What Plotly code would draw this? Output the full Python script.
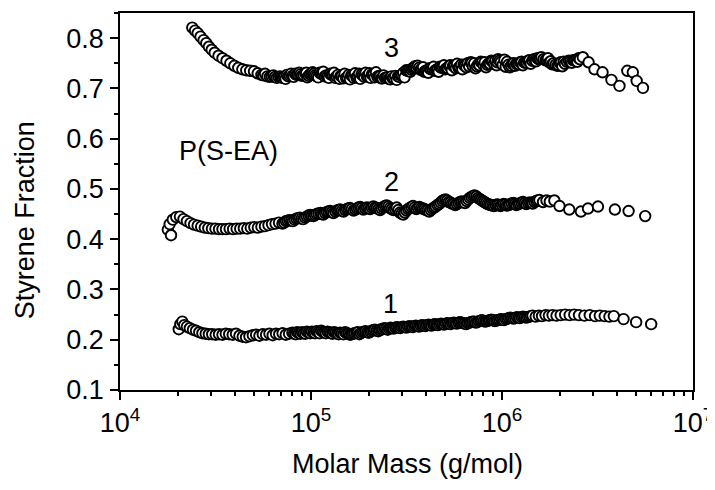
import plotly.graph_objects as go

# ---------------- data (molar mass in kg/mol, styrene fraction) ----------------
mass1_kg = [20.3, 20.7, 21.2, 21.7, 22.4, 23.2, 24.1, 25.0, 26.0, 27.0, 28.1, 29.2, 30.4, 31.7, 33.0,
            34.4, 35.8, 37.3, 38.9, 40.5, 42.2, 43.9, 45.7, 47.6, 49.6, 51.6, 53.7, 55.9, 58.2, 60.6,
            63.0, 65.6, 68.2, 71.0, 73.8, 76.8, 79.9, 83.1, 86.4, 89.8, 93.4, 97.1, 101, 105, 109,
            113, 117, 122, 127, 132, 137, 142, 148, 154, 160, 166, 173, 179, 186, 193,
            201, 208, 216, 225, 233, 242, 252, 261, 271, 282, 293, 304, 316, 328, 341,
            354, 368, 382, 397, 412, 428, 445, 462, 480, 498, 518, 538, 559, 580, 603,
            626, 650, 675, 701, 729, 757, 786, 817, 848, 881, 915, 951, 988, 1026, 1066,
            1107, 1150, 1195, 1241, 1289, 1339, 1391, 1445, 1501, 1560, 1620, 1690, 1760, 1840, 1930,
            2030, 2140, 2260, 2390, 2530, 2700, 2880, 3070, 3250, 3450, 3650, 3850, 4330, 5040, 6040]
frac1 = [0.221, 0.231, 0.236, 0.229, 0.226, 0.223, 0.220, 0.218, 0.215, 0.213, 0.212, 0.211, 0.211, 0.210, 0.211,
         0.210, 0.212, 0.211, 0.210, 0.212, 0.208, 0.206, 0.205, 0.207, 0.209, 0.210, 0.208, 0.211, 0.210, 0.212,
         0.209, 0.212, 0.211, 0.213, 0.210, 0.212, 0.214, 0.211, 0.213, 0.215, 0.212, 0.214, 0.216, 0.213, 0.215,
         0.218, 0.214, 0.216, 0.213, 0.215, 0.212, 0.214, 0.211, 0.213, 0.210, 0.212, 0.214, 0.211, 0.215, 0.217,
         0.214, 0.218, 0.220, 0.217, 0.221, 0.223, 0.220, 0.224, 0.222, 0.225, 0.223, 0.226, 0.224, 0.227, 0.225,
         0.228, 0.226, 0.229, 0.227, 0.230, 0.228, 0.231, 0.229, 0.232, 0.230, 0.233, 0.231, 0.234, 0.232, 0.235,
         0.233, 0.231, 0.234, 0.236, 0.234, 0.237, 0.239, 0.236, 0.238, 0.240, 0.237, 0.239, 0.241, 0.239, 0.242,
         0.244, 0.242, 0.245, 0.243, 0.246, 0.244, 0.246, 0.248, 0.246, 0.248, 0.247, 0.249, 0.248, 0.249, 0.248,
         0.249, 0.250, 0.249, 0.250, 0.249, 0.248, 0.249, 0.247, 0.248, 0.247, 0.246, 0.247, 0.241, 0.235, 0.231]
# additional, densely sampled middle part of curve 1
mass1_mid_kg = [81.5, 84.7, 88.1, 91.6, 95.2, 99.0, 103, 107, 111, 115, 119.5, 124.5, 129.5, 134.5, 139.5,
                145, 151, 157, 163, 169.5, 176, 182.5, 189.5, 197, 204.5, 212, 220.5, 229, 237.5, 247,
                256.5, 266, 276.5, 287.5, 298.5, 310, 322, 334.5, 347.5, 361, 375, 389.5, 404.5, 420, 436.5,
                453.5, 471, 489, 508, 528, 548.5, 569.5, 591.5, 614.5, 638, 662.5, 688, 715, 743, 771.5,
                801.5, 832.5, 864.5, 898, 933, 969.5, 1007, 1046, 1086.5, 1128.5, 1172.5, 1218, 1265, 1314, 1365,
                1418]
frac1_mid = [0.212, 0.215, 0.212, 0.213, 0.216, 0.213, 0.214, 0.217, 0.213, 0.216, 0.213, 0.215, 0.212, 0.214, 0.211,
             0.213, 0.215, 0.212, 0.211, 0.213, 0.215, 0.213, 0.216, 0.215, 0.216, 0.219, 0.218, 0.219, 0.221, 0.222,
             0.222, 0.223, 0.224, 0.224, 0.225, 0.225, 0.226, 0.226, 0.227, 0.227, 0.228, 0.228, 0.229, 0.229, 0.230,
             0.230, 0.231, 0.231, 0.232, 0.232, 0.233, 0.233, 0.234, 0.234, 0.232, 0.233, 0.235, 0.236, 0.235, 0.238,
             0.237, 0.237, 0.239, 0.239, 0.238, 0.240, 0.240, 0.241, 0.243, 0.243, 0.243, 0.244, 0.245, 0.245, 0.245,
             0.247]

mass2_kg = [18.5, 17.8, 18.2, 18.9, 19.7, 20.6, 21.5, 22.4, 23.4, 24.4, 25.5, 26.6, 27.8, 29.0, 30.3,
            31.6, 33.0, 34.4, 35.9, 37.5, 39.1, 40.8, 42.6, 44.5, 46.4, 48.4, 50.5, 52.7, 55.0, 57.4,
            59.9, 62.5, 65.2, 68.0, 70.9, 73.9, 77.1, 80.4, 83.8, 87.4, 91.1, 95.0, 99.0, 103, 107,
            112, 116, 121, 126, 131, 137, 142, 148, 154, 160, 167, 174, 181, 188, 196,
            204, 212, 221, 230, 239, 249, 259, 270, 281, 292, 304, 316, 329, 342, 356,
            370, 385, 400, 416, 433, 450, 468, 487, 506, 526, 547, 569, 592, 615, 640,
            665, 692, 719, 748, 777, 808, 840, 873, 908, 944, 981, 1020, 1060, 1100, 1150,
            1190, 1240, 1290, 1340, 1400, 1450, 1510, 1570, 1640, 1710, 1780, 1880, 2000, 2250, 2590,
            2820, 3180, 3900, 4600, 5620]
frac2 = [0.408, 0.419, 0.430, 0.439, 0.444, 0.445, 0.440, 0.436, 0.432, 0.429, 0.427, 0.425, 0.423, 0.422, 0.421,
         0.421, 0.420, 0.420, 0.420, 0.421, 0.420, 0.421, 0.421, 0.422, 0.421, 0.423, 0.424, 0.423, 0.425, 0.426,
         0.428, 0.430, 0.431, 0.433, 0.431, 0.436, 0.438, 0.436, 0.441, 0.443, 0.440, 0.445, 0.448, 0.446, 0.450,
         0.452, 0.449, 0.454, 0.456, 0.452, 0.457, 0.459, 0.455, 0.460, 0.462, 0.457, 0.461, 0.464, 0.459, 0.463,
         0.460, 0.465, 0.462, 0.458, 0.464, 0.467, 0.462, 0.458, 0.463, 0.453, 0.449, 0.457, 0.462, 0.466, 0.460,
         0.464, 0.461, 0.458, 0.455, 0.461, 0.465, 0.470, 0.476, 0.479, 0.474, 0.471, 0.468, 0.472, 0.475, 0.472,
         0.479, 0.484, 0.487, 0.482, 0.478, 0.474, 0.470, 0.468, 0.466, 0.469, 0.466, 0.470, 0.467, 0.469, 0.472,
         0.468, 0.471, 0.474, 0.470, 0.473, 0.471, 0.476, 0.478, 0.474, 0.477, 0.475, 0.477, 0.466, 0.459, 0.455,
         0.461, 0.465, 0.459, 0.456, 0.446]
# additional, densely sampled middle part of curve 2
mass2_mid_kg = [72.4, 75.5, 78.7, 82.1, 85.6, 89.2, 93.0, 97.0, 101, 105, 109.5, 114, 118.5, 123.5, 128.5,
                134, 139.5, 145, 151, 157, 163.5, 170.5, 177.5, 184.5, 192, 200, 208, 216.5, 225.5, 234.5,
                244, 254, 264.5, 275.5, 286.5, 298, 310, 322.5, 335.5, 349, 363, 377.5, 392.5, 408, 424.5,
                441.5, 459, 477.5, 496.5, 516, 536.5, 558, 580.5, 603.5, 627.5, 652.5, 678.5, 705.5, 733.5, 762.5,
                792.5, 824, 856.5, 890.5, 926, 962.5, 1000, 1040, 1080, 1125, 1170, 1215, 1265, 1315, 1370,
                1425, 1480, 1540]
frac2_mid = [0.433, 0.437, 0.437, 0.439, 0.442, 0.441, 0.443, 0.447, 0.447, 0.448, 0.451, 0.450, 0.452, 0.455, 0.454,
             0.455, 0.458, 0.457, 0.458, 0.461, 0.460, 0.459, 0.463, 0.462, 0.461, 0.462, 0.463, 0.463, 0.460, 0.461,
             0.466, 0.465, 0.460, 0.460, 0.458, 0.451, 0.453, 0.460, 0.464, 0.463, 0.462, 0.462, 0.460, 0.457, 0.458,
             0.463, 0.468, 0.473, 0.478, 0.477, 0.473, 0.470, 0.470, 0.474, 0.474, 0.476, 0.482, 0.486, 0.485, 0.480,
             0.476, 0.472, 0.469, 0.467, 0.468, 0.468, 0.468, 0.469, 0.468, 0.471, 0.470, 0.470, 0.473, 0.472, 0.472,
             0.472, 0.474, 0.477]

mass3_kg = [23.9, 24.7, 25.5, 26.4, 27.4, 28.3, 29.2, 30.2, 31.3, 32.8, 34.4, 36.1, 37.8, 39.7, 41.6,
            43.7, 45.8, 48.0, 50.3, 52.6, 55.0, 57.5, 60.9, 63.5, 66.2, 69.0, 71.0, 73.6, 76.0, 78.6,
            81.2, 84.0, 86.8, 89.7, 93.4, 95.7, 98.8, 102, 105, 109, 113, 116, 120, 124, 128,
            132, 136, 141, 145, 150, 155, 160, 165, 170, 176, 181, 187, 193, 199, 205,
            212, 219, 226, 233, 240, 248, 256, 264, 272, 281, 290, 299, 309, 321, 331,
            340, 351, 362, 374, 386, 398, 411, 424, 438, 452, 466, 481, 497, 513, 529,
            546, 564, 582, 601, 620, 640, 661, 685, 704, 727, 750, 774, 799, 825, 852,
            879, 908, 937, 955, 985, 1030, 1063, 1100, 1133, 1169, 1207, 1246, 1286, 1327, 1370,
            1414, 1470, 1507, 1556, 1606, 1690, 1740, 1800, 1860, 1950, 2005, 2070, 2137, 2240, 2320,
            2400, 2480, 2560, 2650, 2840, 3050, 3360, 3740, 4120, 4530, 4840, 5070, 5470]
frac3 = [0.821, 0.815, 0.810, 0.803, 0.796, 0.790, 0.783, 0.777, 0.771, 0.765, 0.760, 0.755, 0.750, 0.745, 0.741,
         0.738, 0.736, 0.735, 0.734, 0.730, 0.727, 0.729, 0.723, 0.726, 0.721, 0.724, 0.721, 0.719, 0.724, 0.729,
         0.723, 0.727, 0.731, 0.725, 0.730, 0.722, 0.728, 0.732, 0.726, 0.722, 0.729, 0.733, 0.726, 0.721, 0.727,
         0.731, 0.724, 0.719, 0.725, 0.729, 0.722, 0.718, 0.724, 0.730, 0.723, 0.719, 0.726, 0.731, 0.725, 0.721,
         0.727, 0.732, 0.725, 0.720, 0.726, 0.722, 0.719, 0.724, 0.720, 0.717, 0.723, 0.727, 0.722, 0.735, 0.733,
         0.740, 0.744, 0.745, 0.737, 0.742, 0.735, 0.731, 0.738, 0.743, 0.737, 0.733, 0.741, 0.746, 0.740, 0.745,
         0.736, 0.744, 0.749, 0.742, 0.738, 0.745, 0.750, 0.752, 0.744, 0.740, 0.748, 0.753, 0.747, 0.742, 0.750,
         0.755, 0.749, 0.746, 0.758, 0.752, 0.757, 0.753, 0.742, 0.749, 0.745, 0.748, 0.752, 0.746, 0.751, 0.755,
         0.749, 0.758, 0.754, 0.758, 0.762, 0.756, 0.760, 0.754, 0.750, 0.745, 0.751, 0.744, 0.749, 0.755, 0.751,
         0.756, 0.753, 0.758, 0.762, 0.752, 0.738, 0.732, 0.717, 0.705, 0.735, 0.732, 0.715, 0.701]
# additional, densely sampled middle part of curve 3
mass3_mid_kg = [56.2, 59.1, 62.2, 64.8, 67.6, 70.0, 72.3, 74.8, 77.3, 79.9, 82.6, 85.4, 88.2, 91.5, 94.5,
                97.2, 100.5, 103.5, 107, 111, 114.5, 118, 122, 126, 130, 134, 138.5, 143, 147.5, 152.5,
                157.5, 162.5, 167.5, 173, 178.5, 184, 190, 196, 202, 208.5, 215.5, 222.5, 229.5, 236.5, 244,
                252, 260, 268, 276.5, 285.5, 294.5, 304, 315, 326, 335.5, 345.5, 356.5, 368, 380, 392,
                404.5, 417.5, 431, 445, 459, 473.5, 489, 505, 521, 537.5, 555, 573, 591.5, 610.5, 630,
                650.5, 673, 694.5, 715.5, 738.5, 762, 786.5, 812, 838.5, 865.5, 893.5, 922.5, 946, 970, 1008,
                1046, 1081, 1116, 1151, 1188, 1226, 1266, 1306, 1348, 1392, 1442, 1488, 1531, 1581, 1648,
                1715, 1770, 1830, 1905, 1978, 2037, 2103, 2188, 2280, 2360, 2440, 2520]
frac3_mid = [0.726, 0.724, 0.724, 0.723, 0.723, 0.722, 0.722, 0.727, 0.726, 0.725, 0.729, 0.728, 0.728, 0.726, 0.731,
             0.725, 0.730, 0.729, 0.724, 0.731, 0.729, 0.724, 0.724, 0.729, 0.727, 0.721, 0.727, 0.725, 0.720, 0.721,
             0.727, 0.726, 0.721, 0.722, 0.729, 0.728, 0.723, 0.724, 0.730, 0.728, 0.722, 0.723, 0.724, 0.720, 0.721,
             0.722, 0.718, 0.720, 0.725, 0.724, 0.726, 0.731, 0.736, 0.736, 0.737, 0.742, 0.741, 0.741, 0.739, 0.733,
             0.734, 0.740, 0.740, 0.735, 0.737, 0.743, 0.743, 0.738, 0.740, 0.746, 0.745, 0.740, 0.741, 0.747, 0.747,
             0.742, 0.744, 0.751, 0.750, 0.744, 0.746, 0.752, 0.752, 0.747, 0.749, 0.754, 0.755, 0.752, 0.755, 0.747,
             0.743, 0.747, 0.745, 0.750, 0.749, 0.748, 0.753, 0.752, 0.751, 0.756, 0.755, 0.755, 0.760, 0.759, 0.758,
             0.757, 0.752, 0.748, 0.747, 0.746, 0.752, 0.753, 0.753, 0.754, 0.756, 0.755, 0.760]

x_tick_values = [1e4, 1e5, 1e6, 1e7]
x_tick_labels = ["10<sup>4</sup>", "10<sup>5</sup>", "10<sup>6</sup>", "10<sup>7</sup>"]
curve_labels = ["1", "2", "3"]

FONT = "Arial, Liberation Sans, sans-serif"
FS = 27

series = [
    (mass1_kg + mass1_mid_kg, frac1 + frac1_mid),
    (mass2_kg + mass2_mid_kg, frac2 + frac2_mid),
    (mass3_kg + mass3_mid_kg, frac3 + frac3_mid),
]

fig = go.Figure()
for m, f in series:
    pairs = sorted(zip(m, f))
    fig.add_trace(go.Scatter(
        x=[p[0] * 1000 for p in pairs], y=[p[1] for p in pairs], mode="markers",
        marker=dict(symbol="circle", size=10.5, color="white",
                    line=dict(color="black", width=1.9)),
        showlegend=False, hoverinfo="skip"))

minor_x = [k * 10 ** e for e in (4, 5, 6) for k in range(2, 10)]

fig.update_xaxes(
    type="log", range=[4, 7], tickvals=x_tick_values, ticktext=x_tick_labels,
    showline=True, mirror=True, linecolor="black", linewidth=1.7,
    ticks="outside", ticklen=8, tickwidth=1.7, tickcolor="black",
    minor=dict(ticks="outside", ticklen=4.5, tickwidth=1.5, tickcolor="black", tickvals=minor_x),
    showgrid=False, zeroline=False, automargin=False,
    tickfont=dict(family=FONT, size=FS, color="black"))
fig.update_yaxes(
    range=[0.1, 0.85], tick0=0.1, dtick=0.1, tickformat=".1f",
    showline=True, mirror=True, linecolor="black", linewidth=1.7,
    ticks="outside", ticklen=8, tickwidth=1.7, tickcolor="black",
    minor=dict(ticks="outside", ticklen=4.5, tickwidth=1.5, tickcolor="black", dtick=0.05, tick0=0.1),
    showgrid=False, zeroline=False, automargin=False, ticklabelstandoff=1,
    tickfont=dict(family=FONT, size=FS, color="black"))

ann = [
    dict(text=curve_labels[2], x=5.424, y=0.781, xref="x", yref="y"),
    dict(text=curve_labels[1], x=5.424, y=0.513, xref="x", yref="y"),
    dict(text=curve_labels[0], x=5.415, y=0.272, xref="x", yref="y"),
    dict(text="P(S-EA)", x=4.567, y=0.576, xref="x", yref="y"),
    dict(text="Styrene Fraction", x=-0.166, y=0.45, xref="paper", yref="paper", textangle=-90),
    dict(text="Molar Mass (g/mol)", x=0.501, y=-0.195, xref="paper", yref="paper"),
]
for a in ann:
    fig.add_annotation(showarrow=False, xanchor="center", yanchor="middle",
                       font=dict(family=FONT, size=FS, color="black"), **a)

# the page body adds an 8 px offset, so the figure is sized to end exactly at the window edge
fig.update_layout(
    template="none",
    width=707, height=482,
    margin=dict(l=112, r=22, t=5, b=100, pad=0),
    paper_bgcolor="white", plot_bgcolor="white",
    font=dict(family=FONT, size=FS, color="black"),
)

fig.write_html("out.html")
